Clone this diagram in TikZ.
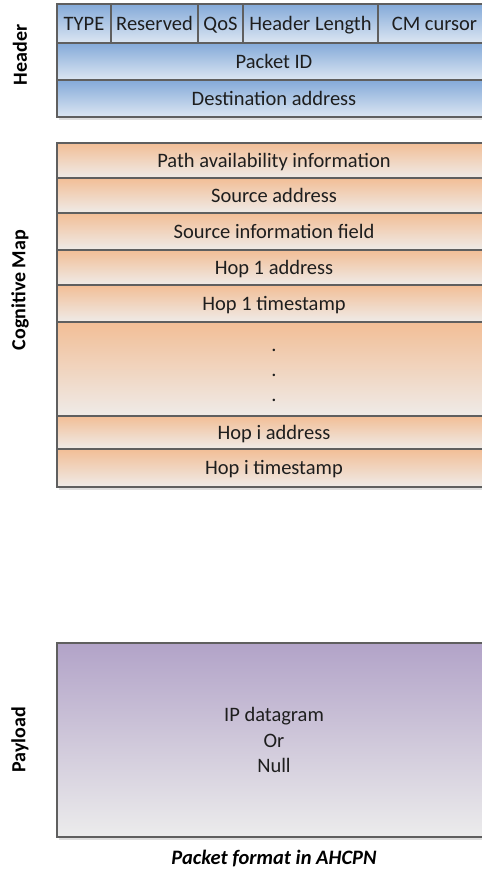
\documentclass[tikz,border=0pt]{standalone}
\usepackage{fontspec}
\setmainfont{Carlito}

\definecolor{edgegray}{HTML}{5F5F5F}
\definecolor{inkgray}{HTML}{1E1E1E}
\definecolor{blueTop}{HTML}{84AAD9}
\definecolor{blueBot}{HTML}{DCE6F2}
\definecolor{orangeTop}{HTML}{F2BE96}
\definecolor{orangeBot}{HTML}{EFEBE8}
\definecolor{purpleTop}{HTML}{B2A3C8}
\definecolor{purpleBot}{HTML}{ECECEC}

\tikzset{
  field/.style={rectangle, draw=edgegray, line width=1.3pt, inner sep=0pt,
    text=inkgray, font=\fontsize{20.5}{25.5}\selectfont, align=center},
  % cap letters centred vertically in the cell
  oneline/.style={text height=15pt, text depth=1.8pt},
  hdrfield/.style={field, oneline, top color=blueTop, bottom color=blueBot},
  cmfield/.style={field, oneline, top color=orangeTop, bottom color=orangeBot},
  cmblock/.style={field, top color=orangeTop, bottom color=orangeBot},
  payfield/.style={field, top color=purpleTop, bottom color=purpleBot},
  plaintext/.style={text=inkgray, font=\fontsize{20.5}{25}\selectfont, align=center, inner sep=0pt},
  sidelabel/.style={rotate=90, font=\fontsize{20}{24}\selectfont\bfseries, text=black},
  boxshadow/.style={fill=black!25, opacity=0.5},
}

\begin{document}
\begin{tikzpicture}[x=1pt, y=-1pt]
  \clip (0,0) rectangle (482,876);
  \fill[white] (0,0) rectangle (482,876);

  % soft shadows under the three blocks
  \fill[boxshadow] (59,6) rectangle (493,119.5);
  \fill[boxshadow] (59,145) rectangle (493,489.5);
  \fill[boxshadow] (59,645) rectangle (493,839.5);

  % ---- Header ----
  \node[hdrfield, minimum width=54pt, minimum height=39pt] (type) at (84,23.5) {TYPE};
  \node[hdrfield, minimum width=87pt, minimum height=39pt] (resv) at (154.5,23.5) {Reserved};
  \node[hdrfield, minimum width=45pt, minimum height=39pt] (qos) at (220.5,23.5) {QoS};
  \node[hdrfield, minimum width=135pt, minimum height=39pt] (hlen) at (310.5,23.5) {Header Length};
  \node[hdrfield, minimum width=113pt, minimum height=39pt] (cmcur) at (434.5,23.5) {CM cursor};
  \node[hdrfield, minimum width=434pt, minimum height=37pt] (pid) at (274,61.5) {Packet ID};
  \node[hdrfield, minimum width=434pt, minimum height=37pt] (dest) at (274,98.5) {Destination address};

  % ---- Cognitive Map ----
  \node[cmfield, minimum width=434pt, minimum height=35pt] (path) at (274,160.5) {Path availability information};
  \node[cmfield, minimum width=434pt, minimum height=35pt] (src) at (274,195.5) {Source address};
  \node[cmfield, minimum width=434pt, minimum height=37pt] (srcinfo) at (274,231.5) {Source information field};
  \node[cmfield, minimum width=434pt, minimum height=35pt] (hop1a) at (274,267.5) {Hop 1 address};
  \node[cmfield, minimum width=434pt, minimum height=37pt] (hop1t) at (274,303.5) {Hop 1 timestamp};
  \node[cmblock, minimum width=434pt, minimum height=94pt] (dots) at (274,369) {};
  \node[plaintext] (ellipsis) at (274,375) {.\\.\\.};
  \node[cmfield, minimum width=434pt, minimum height=33pt] (hopia) at (274,432.5) {Hop i address};
  \node[cmfield, minimum width=434pt, minimum height=38pt] (hopit) at (274,468) {Hop i timestamp};

  % ---- Payload ----
  \node[payfield, minimum width=434pt, minimum height=194pt] (payload) at (274,740)
    {IP datagram\\Or\\Null};

  % ---- side labels ----
  \node[sidelabel] (lblhdr) at (20,55) {Header};
  \node[sidelabel] (lblcm) at (20,290) {Cognitive Map};
  \node[sidelabel] (lblpay) at (20,740) {Payload};

  % ---- caption ----
  \node[font=\fontsize{20.5}{24}\selectfont\bfseries\itshape, text=black] (caption) at (274,858)
    {Packet format in AHCPN};
\end{tikzpicture}
\end{document}
